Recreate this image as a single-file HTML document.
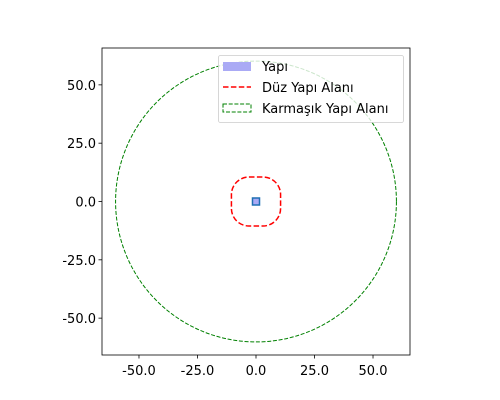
<!DOCTYPE html>
<html><head><meta charset="utf-8"><style>
body{margin:0;background:#fff}
svg{display:block;font-family:"DejaVu Sans","Liberation Sans",sans-serif}
</style></head><body>
<svg id="chart" width="500" height="400">
<rect width="500" height="400" fill="#fff"/>
<g id="plot"></g>
</svg>
<script>
const xTicks=[-50,-25,0,25,50];
const yTicks=[-50,-25,0,25,50];
const tickLabels=["-50.0","-25.0","0.0","25.0","50.0"];
const buildingHalf=[1.5];
const flatBuffer=[10.5];
const flatCorner=[7.5];
const complexRadius=[60];
const legendLabels=["Yapı","Düz Yapı Alanı","Karmaşık Yapı Alanı"];
const L=102,R=410,T=48,B=355,lim=65.8;
const sx=v=>256+v*(R-L)/(2*lim);
const sy=v=>201.5-v*(B-T)/(2*lim);
const ns="http://www.w3.org/2000/svg";
const g=document.getElementById('plot');
function mk(t,a,p){const e=document.createElementNS(ns,t);for(const k in a)e.setAttribute(k,a[k]);(p||g).appendChild(e);return e;}
let c=mk('circle',{cx:sx(0),cy:sy(0),r:sx(complexRadius[0])-sx(0),fill:'none',stroke:'green','stroke-width':1,'stroke-dasharray':'4,1.7'});


const f=flatBuffer[0],cr=flatCorner[0];
let r=mk('rect',{x:sx(-f),y:sy(f),width:sx(f)-sx(-f),height:sy(-f)-sy(f),rx:sx(cr)-sx(0),fill:'none',stroke:'red','stroke-width':1.5,'stroke-dasharray':'5.5,2.4'});


const h=buildingHalf[0];
let b=mk('rect',{x:sx(-h),y:sy(h),width:sx(h)-sx(-h),height:sy(-h)-sy(h),fill:'#aaaaf5',stroke:'#1f6fb4','stroke-width':1.5});


let fr=mk('rect',{x:L,y:T,width:R-L,height:B-T,fill:'none',stroke:'#000','stroke-width':0.8});


xTicks.forEach((v,i)=>{
 mk('line',{x1:sx(v),x2:sx(v),y1:B,y2:B+3.5,stroke:'#000','stroke-width':0.8});
 let t=mk('text',{x:sx(v),y:B+20,'text-anchor':'middle','font-size':13});t.textContent=tickLabels[i];
 
 
});
yTicks.forEach((v,i)=>{
 mk('line',{x1:L-3.5,x2:L,y1:sy(v),y2:sy(v),stroke:'#000','stroke-width':0.8});
 let t=mk('text',{x:L-6,y:sy(v)+5,'text-anchor':'end','font-size':13});t.textContent=tickLabels[i];
 
 
});
const lg=mk('g',{});


mk('rect',{x:218.5,y:55.5,width:185,height:67,rx:2,fill:'#fff','fill-opacity':0.8,stroke:'#ccc','stroke-width':0.8},lg);
mk('rect',{x:223,y:62,width:28,height:9,fill:'#aaaaf5'},lg);
mk('line',{x1:223,x2:251,y1:87,y2:87,stroke:'red','stroke-width':1.5,'stroke-dasharray':'5.5,2.4'},lg);
mk('rect',{x:223,y:104,width:28,height:8,fill:'none',stroke:'green','stroke-width':1,'stroke-dasharray':'4,1.7'},lg);
[71,92,113].forEach((y,i)=>{
 let t=mk('text',{x:262,y:y,'font-size':13},lg);t.textContent=legendLabels[i];
 
 
});
</script>
</body></html>
